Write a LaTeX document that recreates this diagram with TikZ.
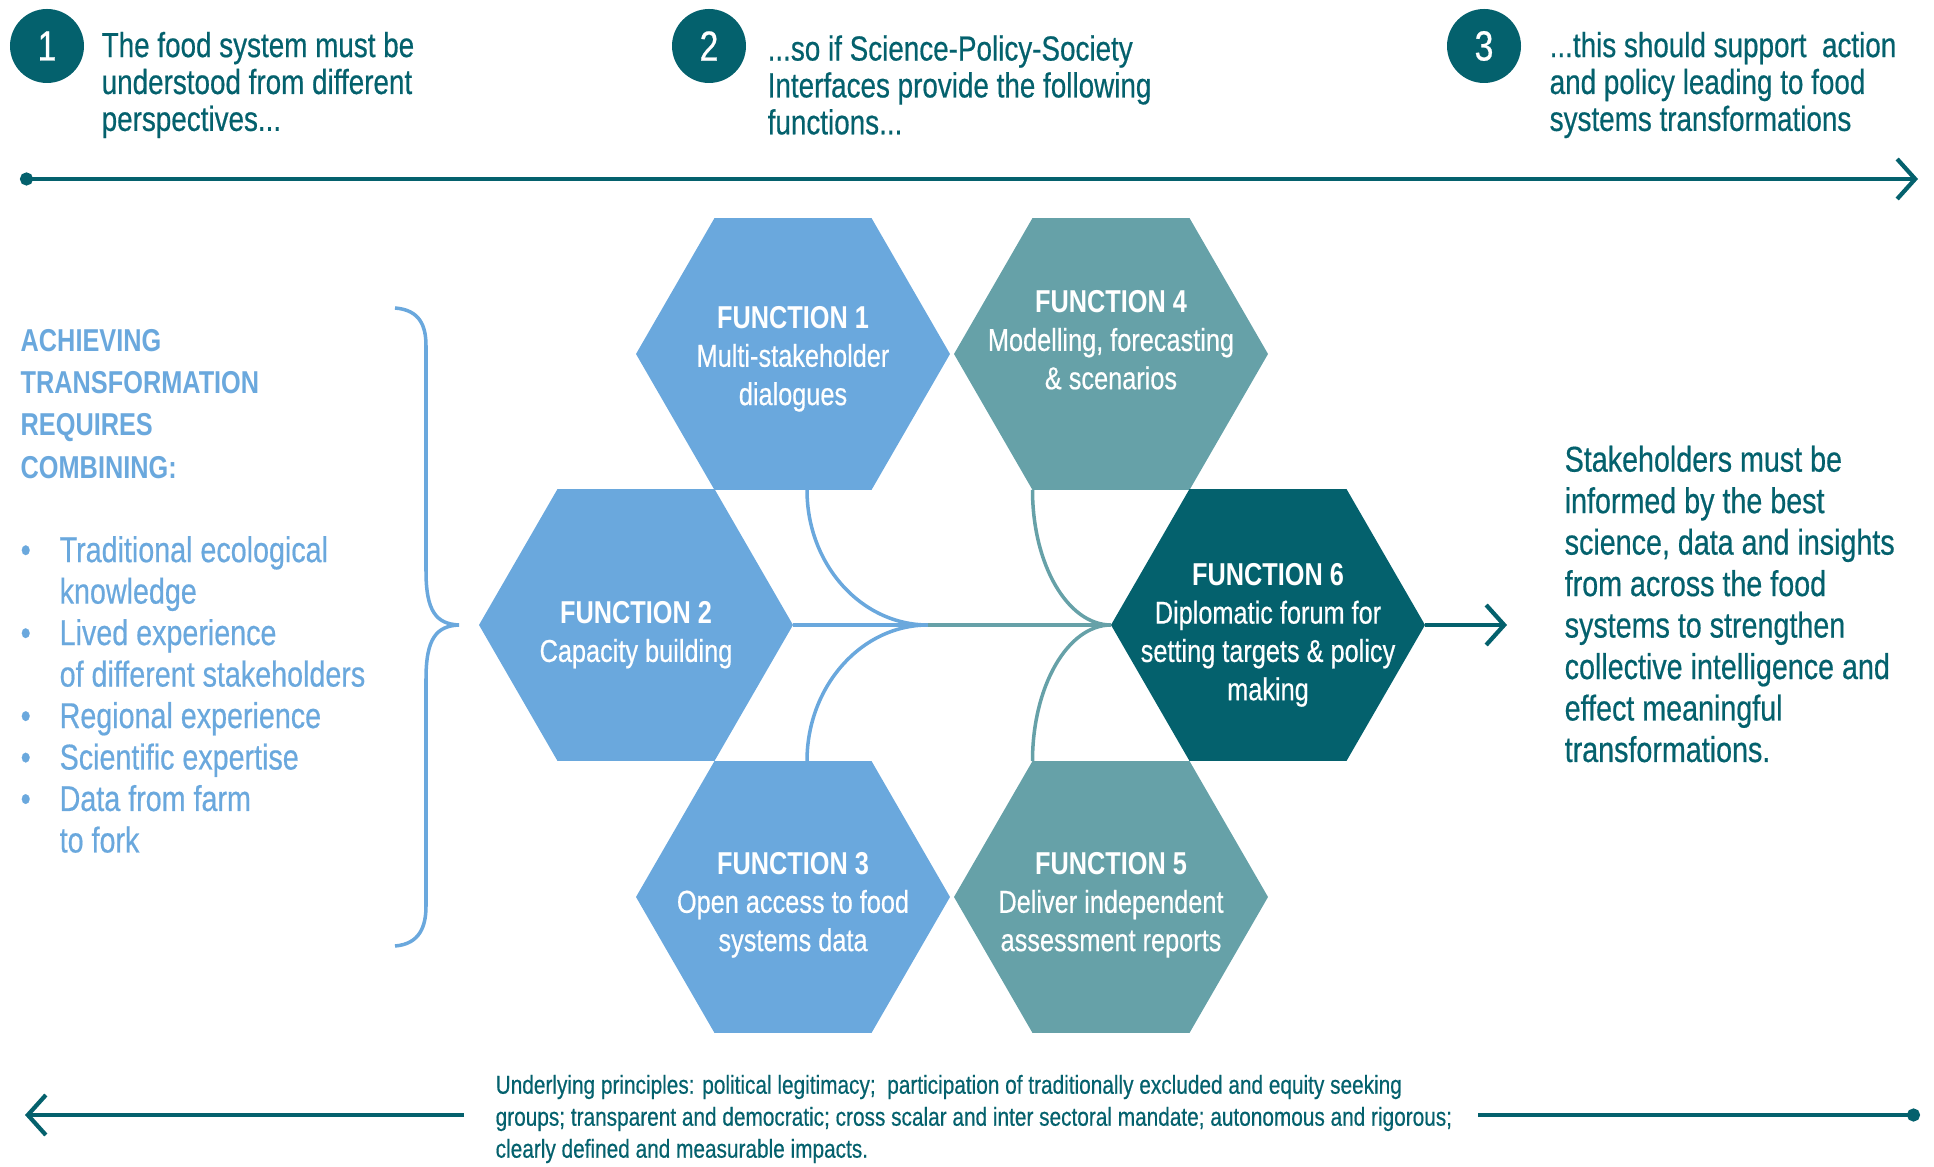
\documentclass[tikz,border=0pt]{standalone}
\usepackage{fontspec}
\setmainfont{Liberation Sans}[FakeStretch=0.8,UprightFeatures={FakeBold=0.5}]
\usetikzlibrary{arrows.meta,shapes.geometric}
\definecolor{Petrol}{HTML}{04616D}
\definecolor{Sky}{HTML}{6AA8DD}
\definecolor{Sage}{HTML}{66A1A8}

\begin{document}
\begin{tikzpicture}[x=1cm,y=1cm,
    hexa/.style={regular polygon,regular polygon sides=6,minimum size=3.14cm,inner sep=0pt,outer sep=0pt},
    hextext/.style={text=white,align=center,inner sep=0pt,font=\fontsize{9}{10.9}\selectfont},
    stepnum/.style={circle,fill=Petrol,minimum size=0.74cm,inner sep=0pt,text=white,font=\fontsize{12}{14}\selectfont},
    stage/.style={anchor=west,align=left,inner sep=0pt,text=Petrol,font=\fontsize{9.9}{10.5}\selectfont},
    timeline/.style={Petrol,line width=1.2pt},
  ]
  \useasboundingbox (0,0) rectangle (19.34,11.66);

  % three steps along the top
  \node[stepnum] (n1) at (0.47,11.20) {1};
  \node[stepnum] (n2) at (7.09,11.20) {2};
  \node[stepnum] (n3) at (14.84,11.20) {3};
  \node[stage] (intro1) at (1.01,10.81) {The food system must be\\understood from different\\perspectives...};
  \node[stage] (intro2) at (7.67,10.81) {...so if Science-Policy-Society\\Interfaces provide the following\\functions...};
  \node[stage] (intro3) at (15.49,10.81) {...this should support\ \ action\\and policy leading to food\\systems transformations};
  \coordinate (top0) at (0.20,9.87);
  \coordinate (top1) at (19.18,9.87);
  \draw[timeline,{Circle[length=1.3mm]}-{Straight Barb[length=1.8mm,width=4mm]}] (top0) -- (top1);

  % left column
  \node[anchor=west,align=left,inner sep=0pt,text=Sky,font=\bfseries\fontsize{9}{12}\selectfont] (head) at (0.20,7.62)
    {ACHIEVING\\TRANSFORMATION\\REQUIRES\\COMBINING:};
  \node[anchor=west,inner sep=0pt,text=Sky,font=\fontsize{10.2}{11.8}\selectfont] (know) at (0.20,4.67)
    {\begin{tabular}{@{}p{0.39cm}@{}l@{}}
      \textbullet & Traditional ecological\\
                  & knowledge\\
      \textbullet & Lived experience\\
                  & of different stakeholders\\
      \textbullet & Regional experience\\
      \textbullet & Scientific expertise\\
      \textbullet & Data from farm\\
                  & to fork
    \end{tabular}};
  \draw[Sky,line width=1pt] (3.95,8.58) .. controls (4.20,8.56) and (4.26,8.40) .. (4.26,8.20)
    -- (4.26,5.95) .. controls (4.26,5.55) and (4.36,5.42) .. (4.59,5.41)
    .. controls (4.36,5.40) and (4.26,5.27) .. (4.26,4.87)
    -- (4.26,2.60) .. controls (4.26,2.40) and (4.20,2.22) .. (3.95,2.20);

  % the six functions
  \node[hexa,fill=Sky] (f1) at (7.93,8.12) {};
  \node[hexa,fill=Sky] (f2) at (6.36,5.41) {};
  \node[hexa,fill=Sky] (f3) at (7.93,2.69) {};
  \node[hexa,fill=Sage] (f4) at (11.11,8.12) {};
  \node[hexa,fill=Sage] (f5) at (11.11,2.69) {};
  \node[hexa,fill=Petrol] (f6) at (12.68,5.41) {};
  \node[hextext] (f1txt) at ([yshift=-0.5mm]f1) {\textbf{FUNCTION 1}\\Multi-stakeholder\\dialogues};
  \node[hextext] (f2txt) at ([yshift=-1mm]f2) {\textbf{FUNCTION 2}\\Capacity building};
  \node[hextext] (f3txt) at ([yshift=-0.8mm]f3) {\textbf{FUNCTION 3}\\Open access to food\\systems data};
  \node[hextext] (f4txt) at ([yshift=1.4mm]f4) {\textbf{FUNCTION 4}\\Modelling, forecasting\\\& scenarios};
  \node[hextext] (f5txt) at ([yshift=-0.8mm]f5) {\textbf{FUNCTION 5}\\Deliver independent\\assessment reports};
  \node[hextext] (f6txt) at ([yshift=-1mm]f6) {\textbf{FUNCTION 6}\\Diplomatic forum for\\setting targets \& policy\\making};

  % links into function 6
  \coordinate (hub) at (9.28,5.41);
  \draw[Sky,line width=1pt] ([xshift=1.4mm]f1.south) .. controls +(0,-0.745) and +(-0.668,0) .. (hub);
  \draw[Sky,line width=1pt] ([xshift=1.4mm]f3.north) .. controls +(0,0.745) and +(-0.668,0) .. (hub);
  \draw[Sky,line width=1pt] (f2.east) -- (hub);
  \draw[Sage,line width=1pt] (hub) -- (f6.west);
  \draw[Sage,line width=1pt] ([xshift=-7.85mm]f4.south) .. controls +(0,-0.745) and +(-0.434,0) .. (f6.west);
  \draw[Sage,line width=1pt] ([xshift=-7.85mm]f5.north) .. controls +(0,0.745) and +(-0.434,0) .. (f6.west);

  % outcome
  \coordinate (goal) at (15.07,5.41);
  \draw[timeline,-{Straight Barb[length=1.8mm,width=4mm]}] (f6.east) -- (goal);
  \node[anchor=west,align=left,inner sep=0pt,text=Petrol,font=\fontsize{10.2}{11.8}\selectfont] (outcome) at (15.64,5.62)
    {Stakeholders must be\\informed by the best\\science, data and insights\\from across the food\\systems to strengthen\\collective intelligence and\\effect meaningful\\transformations.};

  % principles along the bottom
  \node[anchor=west,align=left,inner sep=0pt,text=Petrol,font=\fontsize{7.4}{9.1}\selectfont] (basis) at (4.95,0.47)
    {Underlying principles: political legitimacy; \ participation of traditionally excluded and equity seeking\\
     groups; transparent and democratic; cross scalar and inter sectoral mandate; autonomous and rigorous;\\
     clearly defined and measurable impacts.};
  \coordinate (bot0) at (4.64,0.51);
  \coordinate (botl) at (0.25,0.51);
  \coordinate (bot1) at (14.78,0.51);
  \coordinate (botr) at (19.20,0.51);
  \draw[timeline,-{Straight Barb[length=1.8mm,width=4mm]}] (bot0) -- (botl);
  \draw[timeline,-{Circle[length=1.3mm]}] (bot1) -- (botr);
\end{tikzpicture}
\end{document}
